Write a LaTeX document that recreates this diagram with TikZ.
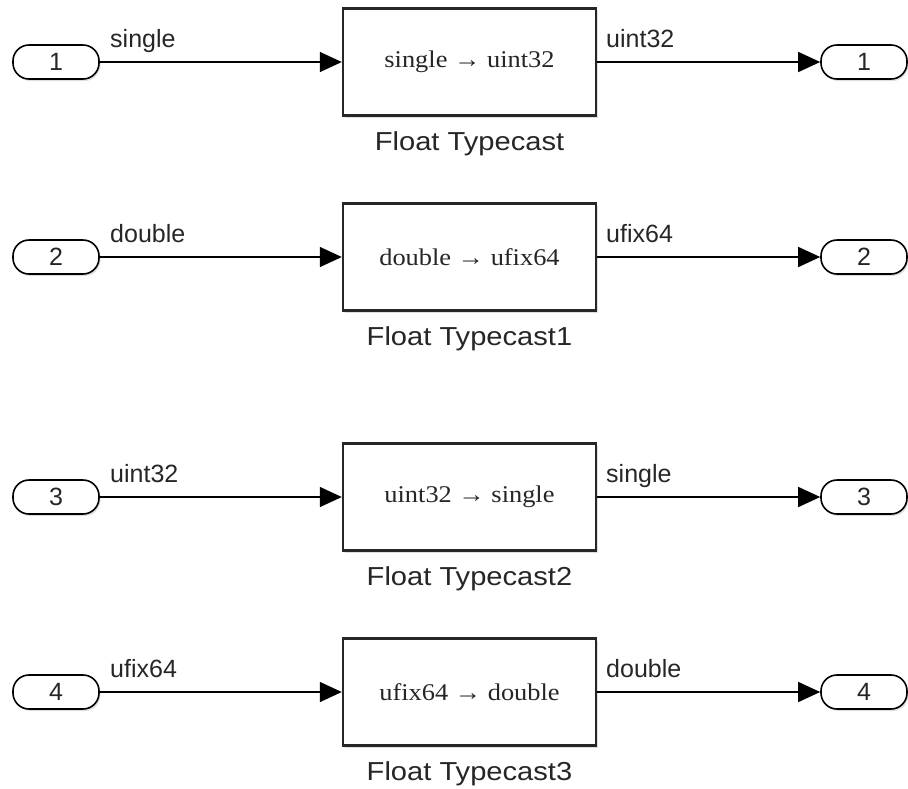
\documentclass[tikz,border=0pt]{standalone}
\usepackage{fontspec}
\setmainfont{Liberation Sans}
\newfontfamily\blkfont[FakeStretch=1.1]{Liberation Serif}
\newfontfamily\namefont[FakeStretch=1.12]{Liberation Sans}
\usetikzlibrary{shadows,arrows.meta}
\definecolor{txt}{HTML}{262626}
\begin{document}
\begin{tikzpicture}[x=1pt,y=-1pt,
  port/.style={draw=black, line width=1.6pt, rounded corners=16pt, minimum width=86pt,
    minimum height=34pt, inner sep=0pt, fill=white, text=txt,
    font=\fontsize{25}{25}\selectfont,
    drop shadow={shadow xshift=1.5pt, shadow yshift=-2pt, opacity=0.25}},
  blk/.style={draw=black!85, line width=2.4pt, minimum width=253pt, minimum height=107pt,
    inner sep=0pt, fill=white, text=txt, font=\blkfont\fontsize{24}{24}\selectfont,
    drop shadow={shadow xshift=2pt, shadow yshift=-2.5pt, opacity=0.25}},
  sig/.style={line width=1.5pt, draw=black, -{Triangle[length=22pt,width=20pt]}},
  lbl/.style={anchor=base west, text=txt, font=\fontsize{25}{25}\selectfont, inner sep=0pt},
  bname/.style={anchor=base, text=txt, font=\namefont\fontsize{26}{26}\selectfont, inner sep=0pt}]
\useasboundingbox (0,0) rectangle (908,788);

% row 1
\node[port] (in1) at (56,62) {1};
\node[blk] (b1) at (469.5,62) {single → uint32};
\node[port] (out1) at (864,62) {1};
\node[lbl] (li1) at (110,47) {single};
\node[lbl] (lo1) at (606,47) {uint32};
\node[bname] (n1) at (469.5,150) {Float Typecast};
\draw[sig] (in1) -- (b1);
\draw[sig] (b1) -- (out1);

% row 2
\node[port] (in2) at (56,257) {2};
\node[blk] (b2) at (469.5,257) {double → ufix64};
\node[port] (out2) at (864,257) {2};
\node[lbl] (li2) at (110,242) {double};
\node[lbl] (lo2) at (606,242) {ufix64};
\node[bname] (n2) at (469.5,345) {Float Typecast1};
\draw[sig] (in2) -- (b2);
\draw[sig] (b2) -- (out2);

% row 3
\node[port] (in3) at (56,497) {3};
\node[blk] (b3) at (469.5,497) {uint32 → single};
\node[port] (out3) at (864,497) {3};
\node[lbl] (li3) at (110,482) {uint32};
\node[lbl] (lo3) at (606,482) {single};
\node[bname] (n3) at (469.5,585) {Float Typecast2};
\draw[sig] (in3) -- (b3);
\draw[sig] (b3) -- (out3);

% row 4
\node[port] (in4) at (56,692) {4};
\node[blk] (b4) at (469.5,692) {ufix64 → double};
\node[port] (out4) at (864,692) {4};
\node[lbl] (li4) at (110,677) {ufix64};
\node[lbl] (lo4) at (606,677) {double};
\node[bname] (n4) at (469.5,780) {Float Typecast3};
\draw[sig] (in4) -- (b4);
\draw[sig] (b4) -- (out4);
\end{tikzpicture}
\end{document}
